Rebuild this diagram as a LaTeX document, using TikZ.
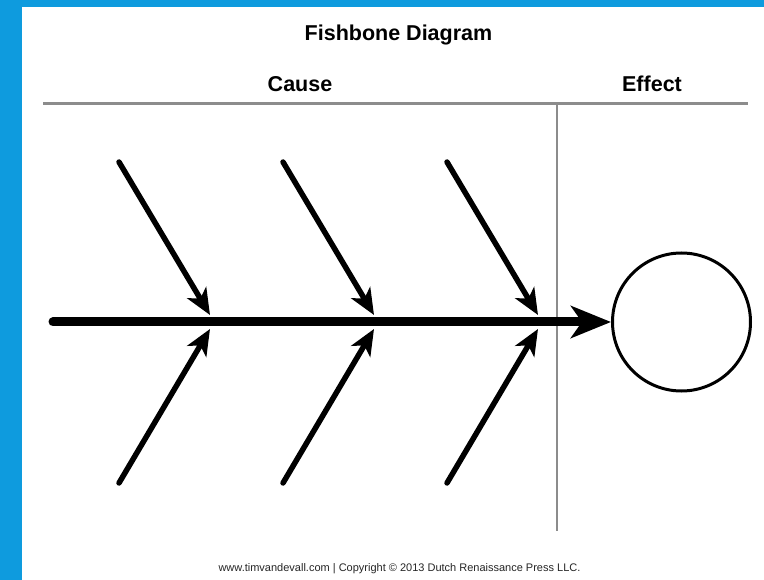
\documentclass[tikz,border=0pt]{standalone}
\usepackage{fontspec}
\setmainfont{Liberation Sans}
\usetikzlibrary{arrows.meta, positioning}
\definecolor{framecyan}{RGB}{14, 155, 222}
\definecolor{rulegray}{RGB}{140, 140, 140}

\begin{document}
\begin{tikzpicture}[x=1pt, y=-1pt,
  bone/.style={line width=5.5pt, line cap=round, -{Stealth[length=26pt, width=22pt, inset=7pt]}},
  spine/.style={line width=9pt, line cap=round, -{Stealth[length=40pt, width=32pt, inset=11pt]}},
  rule/.style={draw=rulegray, line width=3pt},
  heading/.style={font=\bfseries\fontsize{21.5}{24}\selectfont, anchor=base}]

  \useasboundingbox (0,0) rectangle (764,580);
  \fill[framecyan] (0,0) rectangle (764,580);
  \fill[white] (22,7) rectangle (764,580);

  % headings
  \node[heading] (title) at (398.5,40.7) {Fishbone Diagram};
  \node[heading] (cause) at (300,91.7) {Cause};
  \node[heading] (effectlabel) at (652,91.7) {Effect};

  % rules
  \coordinate (ruleL) at (43,104);
  \coordinate (ruleR) at (748,104);
  \coordinate (ruleX) at (557,104);
  \coordinate (ruleB) at (557,531);
  \draw[rule] (ruleL) -- (ruleR);
  \draw[rule, line width=2.5pt] (ruleX) -- (ruleB);

  % head and spine
  \node[draw, line width=3pt, circle, minimum size=138pt, inner sep=0pt] (effect) at (681.5,322) {};
  \coordinate (tail) at (53,322);
  \draw[spine] (tail) -- (effect);

  % bones
  \foreach \i/\dx in {1/0, 2/164, 3/328} {
    \coordinate (up\i) at (119+\dx,162);
    \coordinate (upTip\i) at (210+\dx,315);
    \coordinate (lo\i) at (119+\dx,483);
    \coordinate (loTip\i) at (210+\dx,329);
    \draw[bone] (up\i) -- (upTip\i);
    \draw[bone] (lo\i) -- (loTip\i);
  }

  \node[font=\fontsize{11}{13}\selectfont, text=black!85, anchor=base] (credit) at (399.5,571.7)
    {www.timvandevall.com | Copyright © 2013 Dutch Renaissance Press LLC.};
\end{tikzpicture}
\end{document}
